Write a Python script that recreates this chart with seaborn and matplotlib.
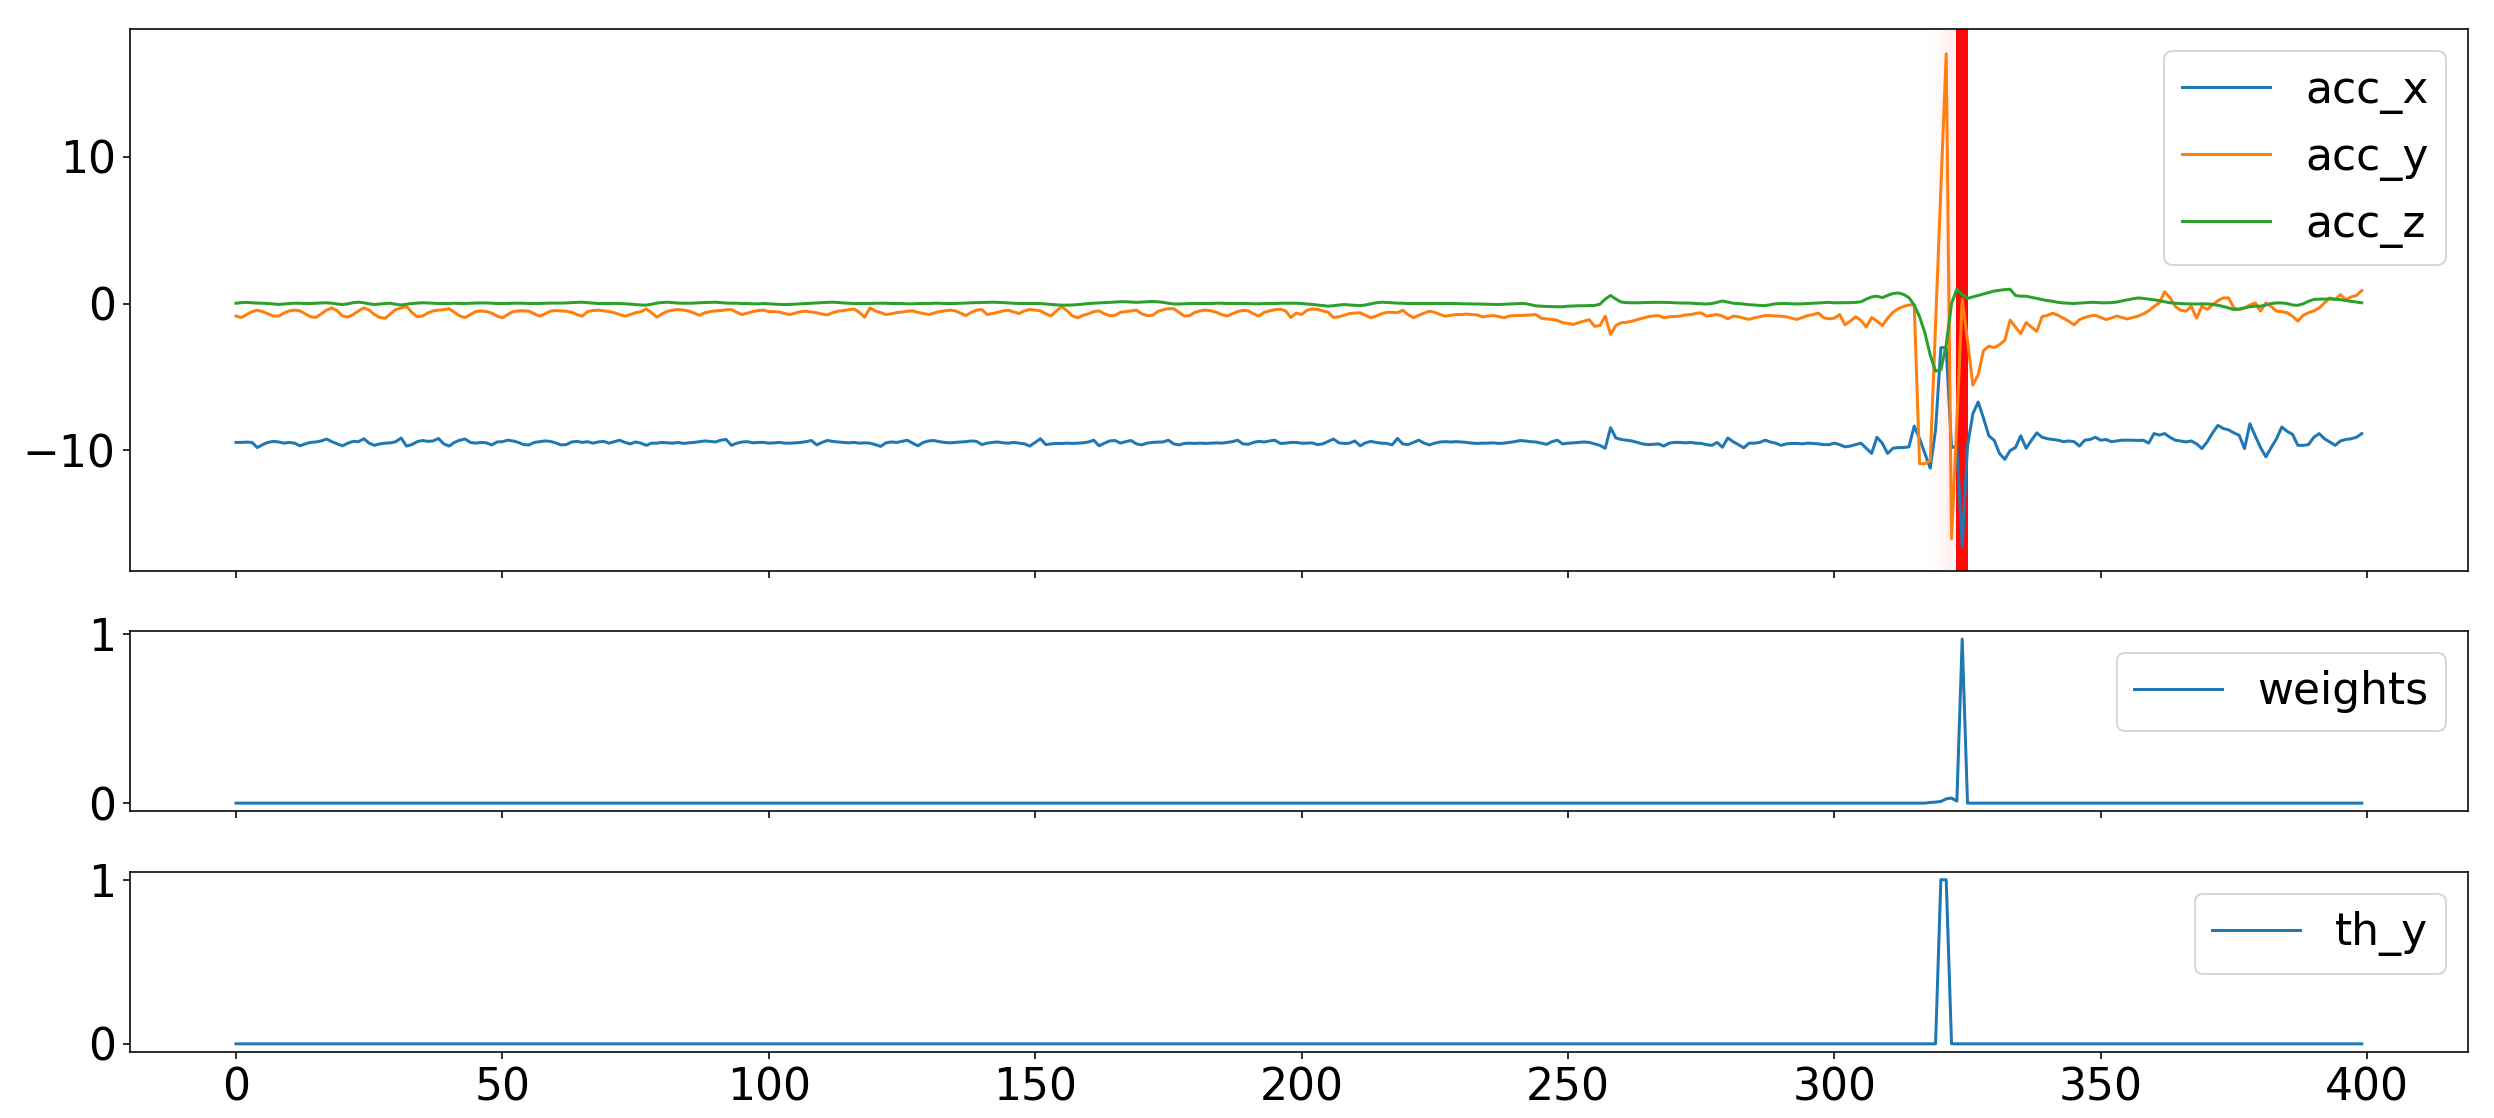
import numpy as np
import matplotlib
matplotlib.use("Agg")
import matplotlib.pyplot as plt
import seaborn as sns

# accelerometer channels, one value per sample (400 samples)
acc_x = [
    -9.45, -9.45, -9.43, -9.45, -9.8, -9.6, -9.45, -9.38, -9.42, -9.5,
    -9.45, -9.5, -9.68, -9.55, -9.45, -9.42, -9.35, -9.22, -9.4, -9.55,
    -9.68, -9.5, -9.38, -9.4, -9.2, -9.5, -9.65, -9.55, -9.5, -9.48,
    -9.4, -9.15, -9.7, -9.6, -9.4, -9.32, -9.38, -9.35, -9.18, -9.55,
    -9.7, -9.45, -9.3, -9.22, -9.45, -9.5, -9.45, -9.48, -9.62, -9.42,
    -9.4, -9.3, -9.35, -9.45, -9.6, -9.62, -9.45, -9.4, -9.35, -9.38,
    -9.48, -9.62, -9.6, -9.42, -9.38, -9.45, -9.4, -9.5, -9.42, -9.38,
    -9.5, -9.4, -9.3, -9.45, -9.55, -9.42, -9.5, -9.65, -9.5, -9.5,
    -9.45, -9.48, -9.5, -9.45, -9.52, -9.48, -9.45, -9.4, -9.35, -9.38,
    -9.42, -9.3, -9.25, -9.65, -9.5, -9.42, -9.4, -9.48, -9.45, -9.45,
    -9.5, -9.48, -9.45, -9.5, -9.5, -9.48, -9.45, -9.4, -9.32, -9.62,
    -9.45, -9.32, -9.38, -9.42, -9.45, -9.48, -9.45, -9.5, -9.48, -9.5,
    -9.6, -9.72, -9.48, -9.42, -9.45, -9.38, -9.3, -9.5, -9.68, -9.45,
    -9.35, -9.32, -9.4, -9.45, -9.48, -9.45, -9.42, -9.4, -9.35, -9.38,
    -9.6, -9.5, -9.45, -9.42, -9.48, -9.5, -9.45, -9.5, -9.55, -9.7,
    -9.45, -9.2, -9.6, -9.55, -9.52, -9.52, -9.5, -9.52, -9.5, -9.48,
    -9.42, -9.3, -9.68, -9.5, -9.35, -9.32, -9.5, -9.4, -9.32, -9.55,
    -9.62, -9.5, -9.45, -9.43, -9.42, -9.3, -9.55, -9.62, -9.52, -9.5,
    -9.52, -9.5, -9.52, -9.5, -9.48, -9.5, -9.45, -9.4, -9.3, -9.55,
    -9.58, -9.45, -9.38, -9.42, -9.35, -9.3, -9.52, -9.5, -9.45, -9.45,
    -9.5, -9.5, -9.48, -9.6, -9.55, -9.38, -9.22, -9.48, -9.52, -9.5,
    -9.35, -9.68, -9.48, -9.38, -9.45, -9.5, -9.52, -9.62, -9.18, -9.55,
    -9.6, -9.45, -9.3, -9.5, -9.62, -9.5, -9.42, -9.4, -9.42, -9.4,
    -9.42, -9.45, -9.5, -9.52, -9.5, -9.5, -9.48, -9.52, -9.5, -9.45,
    -9.4, -9.32, -9.35, -9.4, -9.42, -9.5, -9.58, -9.4, -9.3, -9.55,
    -9.5, -9.48, -9.45, -9.42, -9.45, -9.55, -9.65, -9.85, -8.45, -9.15,
    -9.25, -9.3, -9.35, -9.45, -9.55, -9.6, -9.58, -9.55, -9.7, -9.5,
    -9.45, -9.45, -9.48, -9.45, -9.5, -9.52, -9.6, -9.65, -9.45, -9.78,
    -9.15, -9.4, -9.6, -9.82, -9.5, -9.5, -9.45, -9.3, -9.42, -9.5,
    -9.65, -9.55, -9.52, -9.52, -9.55, -9.5, -9.52, -9.55, -9.6, -9.6,
    -9.5, -9.6, -9.75, -9.7, -9.6, -9.5, -9.85, -10.2, -9.1, -9.5,
    -10.2, -9.85, -9.8, -9.8, -9.75, -8.34, -9.2, -10.2, -11.2, -8.6,
    -3.0, -3.0, -9.8, -9.7, -16.5, -9.7, -7.5, -6.7, -7.8, -9.0,
    -9.3, -10.2, -10.6, -10.0, -9.8, -9.0, -9.85, -9.3, -8.8, -9.1,
    -9.2, -9.25, -9.3, -9.4, -9.35, -9.4, -9.7, -9.3, -9.25, -9.1,
    -9.3, -9.25, -9.4, -9.35, -9.3, -9.3, -9.3, -9.32, -9.3, -9.5,
    -8.85, -8.95, -8.85, -9.1, -9.3, -9.35, -9.42, -9.35, -9.55, -9.87,
    -9.4, -8.8, -8.29, -8.5, -8.6, -8.8, -8.97, -9.87, -8.18, -9.0,
    -9.8, -10.43, -9.8, -9.2, -8.4, -8.7, -8.9, -9.65, -9.65, -9.6,
    -9.1, -8.85, -9.2, -9.42, -9.65, -9.35, -9.25, -9.2, -9.1, -8.85,
]

acc_y = [
    -0.85, -0.95, -0.75, -0.55, -0.45, -0.55, -0.7, -0.85, -0.85, -0.65,
    -0.5, -0.45, -0.5, -0.7, -0.9, -0.95, -0.7, -0.45, -0.3, -0.5,
    -0.85, -0.92, -0.75, -0.5, -0.3, -0.45, -0.75, -0.95, -1.0, -0.7,
    -0.4, -0.3, -0.2, -0.6, -0.9, -0.85, -0.65, -0.5, -0.45, -0.42,
    -0.35, -0.6, -0.85, -0.95, -0.75, -0.55, -0.5, -0.55, -0.65, -0.85,
    -0.97, -0.75, -0.55, -0.5, -0.5, -0.52, -0.7, -0.86, -0.7, -0.52,
    -0.48, -0.5, -0.52, -0.6, -0.75, -0.86, -0.55, -0.48, -0.45, -0.5,
    -0.55, -0.63, -0.75, -0.86, -0.75, -0.63, -0.55, -0.37, -0.63, -0.93,
    -0.7, -0.52, -0.45, -0.41, -0.45, -0.52, -0.65, -0.8, -0.63, -0.55,
    -0.5, -0.48, -0.43, -0.41, -0.6, -0.75, -0.65, -0.55, -0.48, -0.45,
    -0.55, -0.55, -0.58, -0.68, -0.75, -0.65, -0.55, -0.52, -0.58, -0.63,
    -0.72, -0.78, -0.62, -0.52, -0.48, -0.42, -0.37, -0.6, -0.93, -0.3,
    -0.5, -0.62, -0.75, -0.7, -0.62, -0.58, -0.52, -0.5, -0.6, -0.68,
    -0.75, -0.65, -0.55, -0.5, -0.45, -0.5, -0.65, -0.82, -0.6, -0.45,
    -0.41, -0.75, -0.68, -0.6, -0.5, -0.46, -0.58, -0.68, -0.5, -0.41,
    -0.45, -0.5, -0.7, -0.84, -0.5, -0.2, -0.5, -0.85, -0.97, -0.8,
    -0.7, -0.55, -0.5, -0.7, -0.82, -0.8, -0.6, -0.55, -0.5, -0.45,
    -0.7, -0.82, -0.8, -0.55, -0.42, -0.35, -0.35, -0.6, -0.85, -0.82,
    -0.6, -0.5, -0.45, -0.5, -0.6, -0.75, -0.85, -0.7, -0.55, -0.47,
    -0.5, -0.7, -0.85, -0.6, -0.5, -0.42, -0.38, -0.5, -0.95, -0.65,
    -0.75, -0.46, -0.37, -0.4, -0.5, -0.6, -0.95, -0.9, -0.8, -0.68,
    -0.65, -0.63, -0.8, -0.97, -0.85, -0.7, -0.6, -0.6, -0.62, -0.46,
    -0.75, -0.97, -0.8, -0.65, -0.52, -0.6, -0.75, -0.86, -0.8, -0.75,
    -0.75, -0.72, -0.75, -0.78, -0.91, -0.85, -0.82, -0.88, -0.97, -0.85,
    -0.82, -0.82, -0.8, -0.78, -0.75, -1.0, -1.05, -1.08, -1.15, -1.3,
    -1.35, -1.42, -1.3, -1.2, -1.1, -1.55, -1.5, -0.86, -2.1, -1.5,
    -1.3, -1.28, -1.2, -1.1, -1.0, -0.9, -0.85, -0.82, -0.97, -0.9,
    -0.88, -0.86, -0.78, -0.75, -0.68, -0.63, -0.86, -0.8, -0.75, -0.85,
    -1.04, -0.86, -0.9, -1.0, -1.08, -0.97, -0.9, -0.82, -0.82, -0.85,
    -0.86, -0.9, -1.0, -1.08, -0.95, -0.82, -0.75, -0.65, -0.97, -1.04,
    -1.0, -0.75, -1.45, -1.2, -0.9, -1.15, -1.6, -0.95, -1.2, -1.5,
    -1.0, -0.6, -0.35, -0.2, -0.1, -0.08, -10.9, -10.9, -10.7, -1.4,
    7.8, 17.0, -16.0, -8.0, 0.3, -2.5, -5.55, -4.85, -3.2, -2.9,
    -3.0, -2.8, -2.5, -1.13, -1.6, -2.05, -1.3, -1.6, -1.9, -0.89,
    -0.8, -0.66, -0.8, -1.0, -1.2, -1.45, -1.1, -0.95, -0.85, -0.8,
    -0.95, -1.09, -0.98, -0.85, -0.95, -1.05, -0.95, -0.86, -0.7, -0.5,
    -0.2, 0.04, 0.8, 0.4, -0.2, -0.45, -0.52, -0.2, -1.0, -0.18,
    -0.4, -0.1, 0.2, 0.38, 0.38, -0.3, -0.41, -0.3, -0.1, 0.04,
    -0.52, 0.04, -0.2, -0.52, -0.55, -0.63, -0.86, -1.2, -0.8, -0.63,
    -0.5, -0.3, 0.04, 0.38, 0.26, 0.6, 0.26, 0.45, 0.55, 0.88,
]

acc_z = [
    0.02, 0.06, 0.08, 0.05, 0.03, 0.02, 0.0, -0.03, -0.06, -0.03,
    0.0, 0.02, 0.02, 0.0, 0.0, 0.02, 0.04, 0.05, 0.02, -0.03,
    -0.07, -0.02, 0.06, 0.09, 0.05, -0.02, -0.07, -0.03, 0.0, 0.02,
    -0.05, -0.1, -0.05, 0.0, 0.03, 0.05, 0.04, 0.02, 0.0, 0.0,
    0.0, 0.02, 0.0, 0.0, 0.02, 0.03, 0.04, 0.04, 0.02, 0.0,
    0.0, 0.0, 0.02, 0.02, 0.02, 0.0, 0.0, 0.0, 0.02, 0.03,
    0.03, 0.03, 0.04, 0.06, 0.08, 0.09, 0.06, 0.03, 0.0, 0.0,
    0.0, 0.0, 0.0, -0.02, -0.04, -0.07, -0.1, -0.11, -0.05, 0.03,
    0.07, 0.09, 0.06, 0.03, 0.02, 0.02, 0.03, 0.05, 0.07, 0.08,
    0.09, 0.06, 0.03, 0.02, 0.02, 0.0, 0.0, -0.02, -0.02, 0.0,
    -0.02, -0.04, -0.06, -0.07, -0.06, -0.04, -0.02, 0.0, 0.02, 0.04,
    0.06, 0.08, 0.09, 0.07, 0.04, 0.02, 0.0, 0.0, 0.0, 0.0,
    0.02, 0.02, 0.02, 0.0, 0.0, 0.0, -0.02, -0.02, 0.0, 0.0,
    0.0, 0.02, 0.02, 0.0, 0.0, 0.0, 0.02, 0.03, 0.05, 0.06,
    0.07, 0.08, 0.09, 0.08, 0.06, 0.04, 0.02, 0.0, 0.0, 0.0,
    0.0, 0.0, -0.03, -0.06, -0.09, -0.11, -0.11, -0.1, -0.07, -0.04,
    0.0, 0.02, 0.04, 0.06, 0.08, 0.1, 0.12, 0.12, 0.1, 0.08,
    0.1, 0.12, 0.14, 0.12, 0.08, 0.02, -0.03, -0.03, -0.02, 0.0,
    0.0, 0.0, 0.0, 0.0, 0.02, 0.02, 0.0, 0.0, 0.0, 0.0,
    0.0, -0.02, -0.02, 0.0, 0.0, 0.0, 0.02, 0.02, 0.02, 0.02,
    0.0, -0.03, -0.06, -0.1, -0.14, -0.18, -0.15, -0.1, -0.07, -0.1,
    -0.12, -0.14, -0.1, -0.02, 0.05, 0.09, 0.07, 0.05, 0.03, 0.02,
    0.0, 0.0, 0.0, 0.0, 0.0, 0.0, 0.0, 0.0, 0.0, 0.0,
    -0.02, -0.02, -0.03, -0.03, -0.04, -0.05, -0.06, -0.07, -0.05, -0.03,
    -0.02, 0.0, 0.0, -0.08, -0.16, -0.18, -0.2, -0.21, -0.22, -0.22,
    -0.18, -0.17, -0.15, -0.15, -0.14, -0.13, -0.05, 0.3, 0.55, 0.3,
    0.1, 0.06, 0.05, 0.05, 0.06, 0.07, 0.08, 0.08, 0.08, 0.07,
    0.05, 0.04, 0.03, 0.03, 0.0, -0.02, -0.03, 0.0, 0.08, 0.17,
    0.1, 0.02, 0.0, -0.04, -0.08, -0.1, -0.13, -0.14, -0.08, -0.02,
    0.0, 0.0, -0.02, -0.03, -0.02, 0.0, 0.02, 0.04, 0.06, 0.08,
    0.05, 0.05, 0.06, 0.06, 0.08, 0.12, 0.3, 0.45, 0.5, 0.4,
    0.55, 0.68, 0.72, 0.62, 0.4, -0.1, -0.9, -2.0, -3.5, -4.6,
    -4.5, -2.8, 0.0, 0.97, 0.6, 0.35, 0.45, 0.55, 0.65, 0.75,
    0.85, 0.9, 0.95, 0.97, 0.55, 0.5, 0.5, 0.42, 0.35, 0.27,
    0.2, 0.15, 0.08, 0.04, 0.02, 0.0, 0.03, 0.05, 0.08, 0.08,
    0.05, 0.05, 0.06, 0.1, 0.18, 0.25, 0.32, 0.38, 0.35, 0.3,
    0.25, 0.2, 0.12, 0.05, 0.02, 0.0, -0.02, -0.03, -0.03, -0.02,
    -0.03, -0.05, -0.12, -0.2, -0.3, -0.41, -0.38, -0.3, -0.22, -0.18,
    -0.18, -0.1, 0.0, 0.04, 0.04, 0.0, -0.1, -0.12, -0.02, 0.15,
    0.28, 0.3, 0.3, 0.32, 0.3, 0.26, 0.2, 0.15, 0.1, 0.05,
]

# attention weights and threshold flag, zero except around the event
n_samples = 400
weight_nonzero = {318: 0.004, 319: 0.006, 320: 0.01, 321: 0.025,
                  322: 0.03, 323: 0.012, 324: 0.97}
th_y_nonzero = {320: 1.0, 321: 1.0}

weights = np.zeros(n_samples)
for k, v in weight_nonzero.items():
    weights[k] = v
th_y = np.zeros(n_samples)
for k, v in th_y_nonzero.items():
    th_y[k] = v

t = np.arange(n_samples)
assert len(acc_x) == len(acc_y) == len(acc_z) == n_samples

DPI = 144
plt.rcParams['font.size'] = 22

fig, axes = plt.subplots(3, 1, figsize=(2494 / DPI, 1118 / DPI), dpi=DPI, sharex=True,
                         gridspec_kw={'height_ratios': [3, 1, 1], 'hspace': 0.2})
fig.subplots_adjust(left=0.052, right=0.9896, top=0.974, bottom=0.059)

ax = axes[0]
# red band, opacity given by the attention weight of each sample
for i, w in enumerate(weights):
    if w > 0:
        ax.axvline(t[i], color='red', alpha=w, linewidth=6, zorder=0)
sns.lineplot(x=t, y=acc_x, ax=ax, color='C0', label='acc_x')
sns.lineplot(x=t, y=acc_y, ax=ax, color='C1', label='acc_y')
sns.lineplot(x=t, y=acc_z, ax=ax, color='C2', label='acc_z')
ax.legend(loc='upper right')

sns.lineplot(x=t, y=weights, ax=axes[1], color='C0', label='weights')
axes[1].legend(loc='upper right')

sns.lineplot(x=t, y=th_y, ax=axes[2], color='C0', label='th_y')
axes[2].legend(loc='upper right')

for a in axes:
    a.set_xlabel('')
    a.set_ylabel('')

plt.savefig('out.png', dpi=DPI)
plt.close()
